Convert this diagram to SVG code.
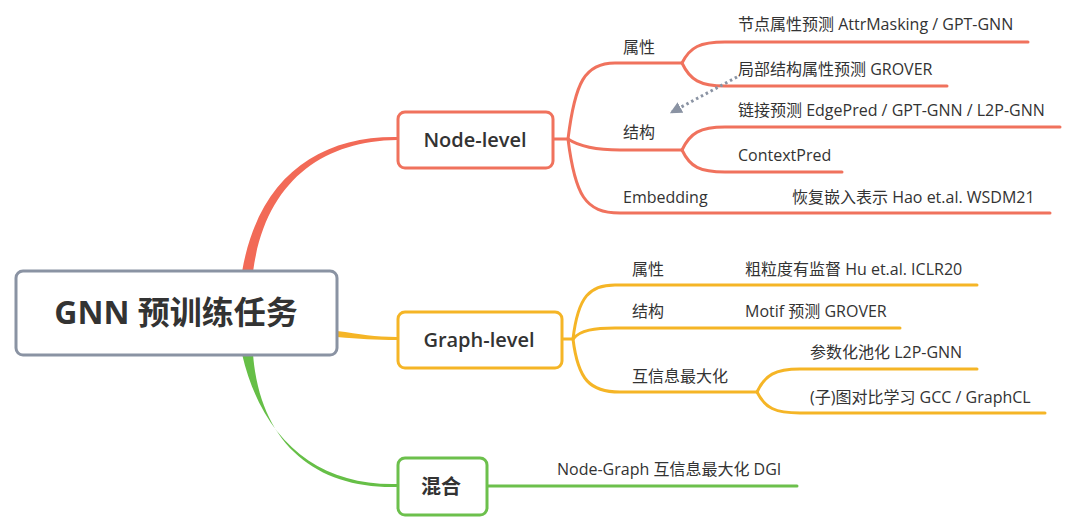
<svg xmlns="http://www.w3.org/2000/svg" width="1080" height="532" viewBox="0 0 1080 532">
<style>
text{font-family:"Open Sans","Noto Sans CJK SC",sans-serif;fill:#333333}
.lbl{font-size:16px}
.node{font-size:20px;font-weight:600}
.red{fill:none;stroke:#f0725d;stroke-width:3;stroke-linecap:round}
.yel{fill:none;stroke:#f5b526;stroke-width:3;stroke-linecap:round}
.grn{fill:none;stroke:#6cc04c;stroke-width:3;stroke-linecap:round}
</style>
<defs>
<marker id="ah" viewBox="0 0 10 10" refX="8" refY="5" markerWidth="4" markerHeight="4" orient="auto" markerUnits="strokeWidth">
<path d="M0,0 L10,5 L0,10 Z" fill="#8a93a3"/>
</marker>
</defs>
<rect width="1080" height="532" fill="#ffffff"/>
<g id="connectors">
<path d="M242,272 C 258,178 318,136 397,137 L397,140 C 322,141 265,182 253,272 Z" fill="#f26a57"/>
<path d="M337,331 C 360,334 375,337 397,337 L397,340 C 375,340 360,339 337,337 Z" fill="#f5b526"/>
<path d="M242,354 C 262,440 318,486 397,484 L397,487 C 316,489 260,444 253,354 Z" fill="#66bf47"/>
<path class="red" d="M553,139 L568,139"/>
<path class="red" d="M568,139 C 575,82 585,63 615,63 L682,63"/>
<path class="red" d="M682,63 C 690,47 700,42 725,42 L1028,42"/>
<path class="red" d="M682,63 C 690,80 700,86 725,86 L947,86"/>
<path class="red" d="M568,139 C 580,147 598,150 620,150 L682,150"/>
<path class="red" d="M682,150 C 690,133 700,127 725,127 L1060,127"/>
<path class="red" d="M682,150 C 690,167 700,172 725,172 L842,172"/>
<path class="red" d="M568,139 C 575,195 585,213 620,213 L1050,213"/>
<path class="yel" d="M562,339 L573,339"/>
<path class="yel" d="M573,339 C 578,296 590,285 615,285 L977,285"/>
<path class="yel" d="M573,339 C 580,330 595,328 615,328 L900,328"/>
<path class="yel" d="M573,339 C 578,380 590,392 620,392 L757,392"/>
<path class="yel" d="M757,392 C 765,375 775,369 800,369 L977,369"/>
<path class="yel" d="M757,392 C 765,408 775,413 800,413 L1045,413"/>
<path class="grn" d="M487,486 L797,486"/>
<path d="M737,77 L672,112" fill="none" stroke="#8a93a3" stroke-width="3" stroke-dasharray="2.5 3" marker-end="url(#ah)"/>
</g>
<g id="root">
<rect x="16" y="271" width="321" height="84" rx="7" fill="#ffffff" stroke="#8a93a3" stroke-width="3"/>
<text x="176" y="324" font-size="32" font-weight="bold" text-anchor="middle">GNN 预训练任务</text>
</g>
<g id="node-level">
<rect x="398" y="112" width="155" height="56" rx="7" fill="#ffffff" stroke="#f0725d" stroke-width="3"/>
<text class="node" x="475" y="147" text-anchor="middle">Node-level</text>
</g>
<g id="graph-level">
<rect x="398" y="312" width="164" height="56" rx="7" fill="#ffffff" stroke="#f5b526" stroke-width="3"/>
<text class="node" x="479" y="347" text-anchor="middle">Graph-level</text>
</g>
<g id="mixed">
<rect x="398" y="458" width="89" height="57" rx="7" fill="#ffffff" stroke="#6cc04c" stroke-width="3"/>
<text class="node" x="441" y="494" text-anchor="middle" font-weight="bold">混合</text>
</g>
<g id="node-attr"><text class="lbl" x="623" y="53">属性</text></g>
<g id="node-struct"><text class="lbl" x="623" y="138">结构</text></g>
<g id="node-emb"><text class="lbl" x="623" y="203">Embedding</text></g>
<g id="n1"><text class="lbl" x="738" y="30">节点属性预测 AttrMasking / GPT-GNN</text></g>
<g id="n2"><text class="lbl" x="738" y="75">局部结构属性预测 GROVER</text></g>
<g id="n3"><text class="lbl" x="738" y="116">链接预测 EdgePred / GPT-GNN / L2P-GNN</text></g>
<g id="n4"><text class="lbl" x="738" y="161">ContextPred</text></g>
<g id="n5"><text class="lbl" x="792" y="203">恢复嵌入表示 Hao et.al. WSDM21</text></g>
<g id="graph-attr"><text class="lbl" x="632" y="275">属性</text></g>
<g id="graph-struct"><text class="lbl" x="632" y="317">结构</text></g>
<g id="graph-mi"><text class="lbl" x="632" y="382">互信息最大化</text></g>
<g id="g1"><text class="lbl" x="745" y="275">粗粒度有监督 Hu et.al. ICLR20</text></g>
<g id="g2"><text class="lbl" x="745" y="317">Motif 预测 GROVER</text></g>
<g id="g3"><text class="lbl" x="810" y="358">参数化池化 L2P-GNN</text></g>
<g id="g4"><text class="lbl" x="810" y="403">(子)图对比学习 GCC / GraphCL</text></g>
<g id="m1"><text class="lbl" x="557" y="475">Node-Graph 互信息最大化 DGI</text></g>
</svg>
